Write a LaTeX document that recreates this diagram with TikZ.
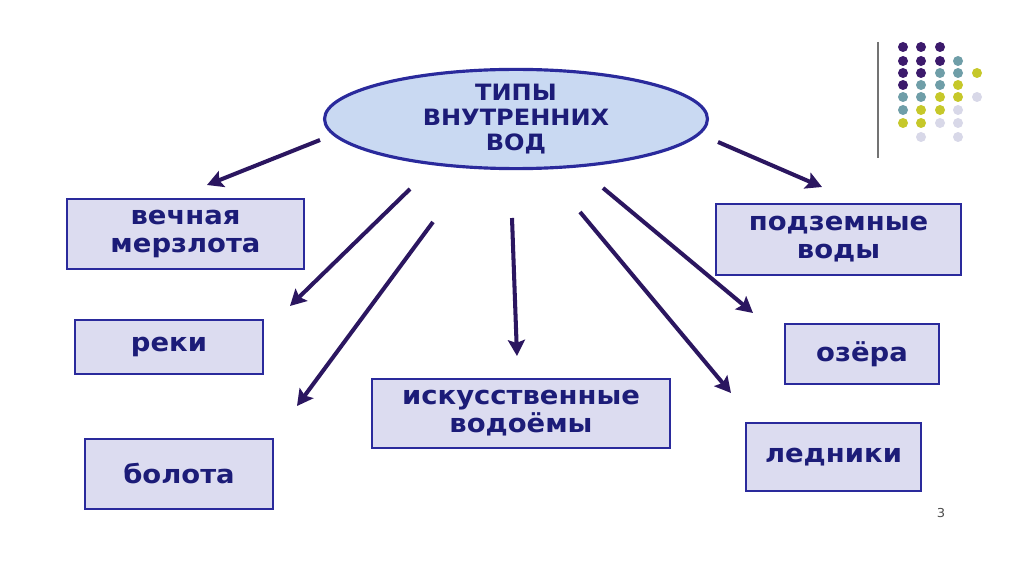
\documentclass[tikz,border=0pt]{standalone}
\usepackage{fontspec}
\setmainfont[FakeStretch=1.07]{DejaVu Sans}
\usepackage{xcolor}
\usepackage{tikz}
\usetikzlibrary{arrows.meta,shapes.geometric}
\definecolor{boxline}{HTML}{2A2A9C}
\definecolor{boxfill}{HTML}{DCDCF0}
\definecolor{ovalfill}{HTML}{C9D9F2}
\definecolor{navytext}{HTML}{1C1C78}
\definecolor{arrcol}{HTML}{2B1660}
\definecolor{dotP}{HTML}{3C1A6C}
\definecolor{dotT}{HTML}{6F9EA8}
\definecolor{dotY}{HTML}{C6C82A}
\definecolor{dotL}{HTML}{D8D8E8}
\tikzset{
  kind/.style={rectangle, draw=boxline, fill=boxfill, line width=1.2pt, align=center,
    text=navytext, font=\fontsize{14.6}{16}\selectfont\bfseries, inner sep=2pt},
  topic/.style={ellipse, draw=boxline, fill=ovalfill, line width=1.8pt, align=center,
    text=navytext, font=\fontsize{12.8}{14.3}\selectfont\bfseries, inner sep=0pt},
  arr/.style={-{Stealth[length=3.2mm, width=3.4mm, inset=0.6mm]}, line width=2.3pt, arrcol},
}

\begin{document}
\begin{tikzpicture}[x=0.02cm, y=-0.02cm]
  \useasboundingbox[fill=white] (0,0) rectangle (1024,574);
  % central oval
  \node[topic, minimum width=7.66cm, minimum height=1.74cm] (types) at (516,119)
    {ТИПЫ\\ВНУТРЕННИХ\\ВОД};
  % boxes, left column
  \node[kind, minimum width=4.74cm, minimum height=1.4cm] (perma) at (185.5,234) {вечная\\мерзлота};
  \node[kind, minimum width=3.76cm, minimum height=1.08cm] (rivers) at (169,347) {реки};
  \node[kind, minimum width=3.76cm, minimum height=1.4cm] (bogs) at (179,474) {болота};
  % middle
  \node[kind, minimum width=5.96cm, minimum height=1.38cm] (artif) at (521,413.5) {искусственные\\водоёмы};
  % right column
  \node[kind, minimum width=4.9cm, minimum height=1.42cm] (ground) at (838.5,239.5) {подземные\\воды};
  \node[kind, minimum width=3.08cm, minimum height=1.2cm] (lakes) at (862,354) {озёра};
  \node[kind, minimum width=3.5cm, minimum height=1.36cm] (glac) at (833.5,457) {ледники};

  % arrow ends (the arrows stop short of the boxes)
  \coordinate (s1) at (320,140);  \coordinate (e1) at (207,185);
  \coordinate (s2) at (410,189);  \coordinate (e2) at (290,306);
  \coordinate (s3) at (433,222);  \coordinate (e3) at (297,406);
  \coordinate (s4) at (512,218);  \coordinate (e4) at (517,356);
  \coordinate (s5) at (580,212);  \coordinate (e5) at (731,393);
  \coordinate (s6) at (603,188);  \coordinate (e6) at (753,313);
  \coordinate (s7) at (718,142);  \coordinate (e7) at (822,187);
  \foreach \i in {1,...,7}
    \draw[arr] (s\i) -- (e\i);

  % decoration top right
  \coordinate (bartop) at (878,42);
  \coordinate (barbot) at (878,158);
  \draw[black!55, line width=1pt] (bartop) -- (barbot);
  \foreach \c/\x/\y in {
      dotP/903/47, dotP/921/47, dotP/940/47,
      dotP/903/61, dotP/921/61, dotP/940/61, dotT/958/61,
      dotP/903/73, dotP/921/73, dotT/940/73, dotT/958/73, dotY/977/73,
      dotP/903/85, dotT/921/85, dotT/940/85, dotY/958/85,
      dotT/903/97, dotT/921/97, dotY/940/97, dotY/958/97, dotL/977/97,
      dotT/903/110, dotY/921/110, dotY/940/110, dotL/958/110,
      dotY/903/123, dotY/921/123, dotL/940/123, dotL/958/123,
      dotL/921/137, dotL/958/137}
    \fill[\c] (\x,\y) circle (0.1cm);

  % slide number
  \node[font=\fontsize{7}{8}\selectfont, text=black!70] (pagenum) at (941,513) {3};
\end{tikzpicture}
\end{document}
